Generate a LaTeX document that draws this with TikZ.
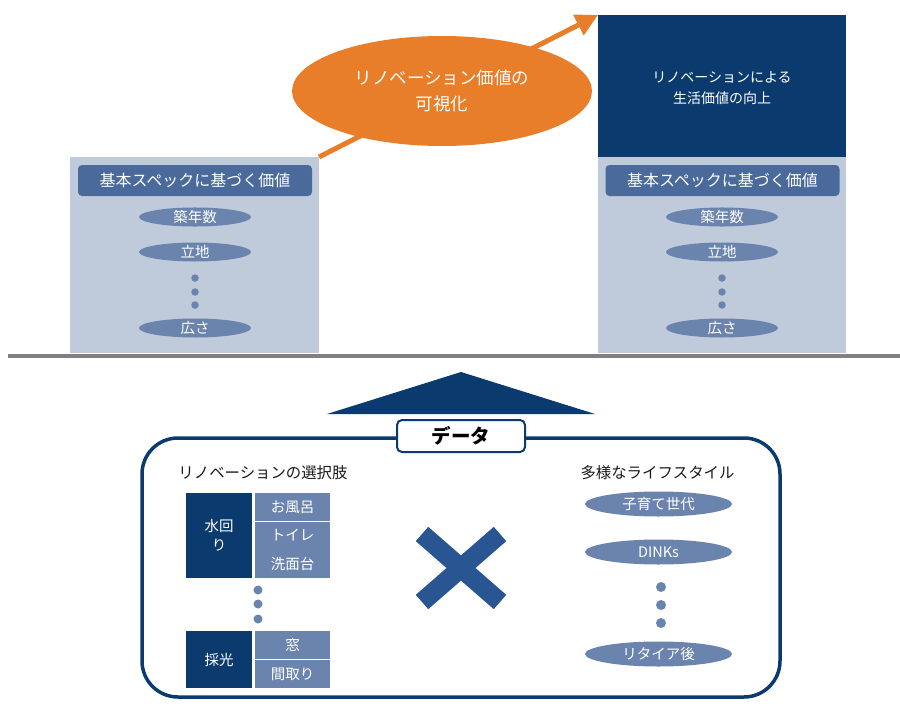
\documentclass[tikz,border=0pt]{standalone}
\usepackage{fontspec}
\setmainfont{Noto Sans CJK JP}
\usetikzlibrary{arrows.meta,shapes.geometric}
\definecolor{navy}{HTML}{0B3A6E}
\definecolor{lightbg}{HTML}{BFCADB}
\definecolor{hdr}{HTML}{4A6A9C}
\definecolor{ellc}{HTML}{6B84AE}
\definecolor{orng}{HTML}{E87D2A}
\definecolor{xblue}{HTML}{295592}
\definecolor{gline}{HTML}{808080}
\begin{document}
\begin{tikzpicture}[x=1pt,y=-1pt,
  panel/.style={fill=#1, draw=none, inner sep=0, outer sep=0, anchor=north west},
  hdrbox/.style={fill=hdr, rounded corners=4, minimum width=234, minimum height=31, inner sep=0, text=white, font=\fontsize{16}{19}\selectfont},
  pill/.style={ellipse, fill=ellc, inner sep=0, minimum width=112, minimum height=19, text=white, font=\fontsize{14.5}{17}\selectfont},
  bigpill/.style={pill, minimum width=147, minimum height=25},
  dotc/.style={circle, fill=ellc, inner sep=0, minimum size=#1},
  cell/.style={fill=ellc, inner sep=0, minimum width=75, text=white, font=\fontsize{14.5}{17}\selectfont},
  darkcell/.style={fill=navy, inner sep=0, minimum width=66, text=white, align=center, font=\fontsize{14.5}{19}\selectfont},
  title/.style={text=black!90, font=\fontsize{15.4}{18}\selectfont, inner sep=0}
]
\useasboundingbox (0,0) rectangle (900,720);

% top panels
\node[panel=lightbg, minimum width=249, minimum height=196] (lbox) at (70,157) {};
\node[panel=navy, minimum width=248, minimum height=142] (nbox) at (598,15) {};
\node[panel=lightbg, minimum width=248, minimum height=196] (rbox) at (598,157) {};

\node[text=white, align=center, inner sep=0, font=\fontsize{14}{21}\selectfont] (ntext) at (722,88.5) {リノベーションによる\\生活価値の向上};

% arrow + orange ellipse
\draw[orng, line width=5, -{Triangle[length=22pt,width=22pt]}] (lbox.north east) -- (nbox.north west);
\node[ellipse, fill=orng, minimum width=300, minimum height=110, inner sep=0, text=white, align=center, font=\fontsize{17.5}{26}\selectfont] (oell) at (442,91) {リノベーション価値の\\可視化};

% left panel content
\node[hdrbox] (lh) at (195,180.5) {基本スペックに基づく価値};
\node[pill] (l1) at (195,217) {築年数};
\node[pill] (l2) at (195,252) {立地};
\node[dotc=7.5] (ld1) at (195,278) {};
\node[dotc=7.5] (ld2) at (195,292) {};
\node[dotc=7.5] (ld3) at (195,305) {};
\node[pill] (l3) at (195,328) {広さ};

% right panel content
\node[hdrbox] (rh) at (722.5,180.5) {基本スペックに基づく価値};
\node[pill] (r1) at (722,217) {築年数};
\node[pill] (r2) at (722,252) {立地};
\node[dotc=7.5] (rd1) at (722,278) {};
\node[dotc=7.5] (rd2) at (722,292) {};
\node[dotc=7.5] (rd3) at (722,305) {};
\node[pill] (r3) at (722,328) {広さ};

% ground line
\draw[gline, line width=4] (8,355.5) -- (900,355.5);

% triangle
\fill[navy] (461,372) -- (327,414) -- (595,414) -- cycle;

% frame
\draw[navy, line width=3.5, rounded corners=36] (142,438) rectangle (780,697);
\node[draw=navy, line width=2, fill=white, rounded corners=5, minimum width=128, minimum height=32, inner sep=0, font=\fontsize{19.5}{22}\selectfont\bfseries] (data) at (461,436) {データ};

% left section
\node[title] (lt) at (263,473) {リノベーションの選択肢};
\node[darkcell, minimum height=85] (mizu) at (219,535.5) {水回\\り};
\node[cell, minimum height=28] (furo) at (292.5,507) {お風呂};
\node[cell, minimum height=56, align=center, font=\fontsize{14.5}{29}\selectfont] (toire) at (292.5,550) {トイレ\\洗面台};
\node[dotc=9] (td1) at (258,590) {};
\node[dotc=9] (td2) at (258,604) {};
\node[dotc=9] (td3) at (258,619) {};
\node[darkcell, minimum height=57] (saiko) at (219,659.5) {採光};
\node[cell, minimum height=28] (mado) at (292.5,645) {窓};
\node[cell, minimum height=28] (madori) at (292.5,674) {間取り};

% cross
\coordinate (xc) at (461,568);
\draw[xblue, line width=19] (422,534) -- (500,602);
\draw[xblue, line width=19] (500,534) -- (422,602);

% right section
\node[title] (rt) at (657.5,473) {多様なライフスタイル};
\node[bigpill] (p1) at (658.5,504) {子育て世代};
\node[bigpill] (p2) at (658.5,552) {DINKs};
\node[dotc=10] (pd1) at (661,587) {};
\node[dotc=10] (pd2) at (661,605) {};
\node[dotc=10] (pd3) at (661,623) {};
\node[bigpill] (p3) at (658.5,654) {リタイア後};
\end{tikzpicture}
\end{document}
